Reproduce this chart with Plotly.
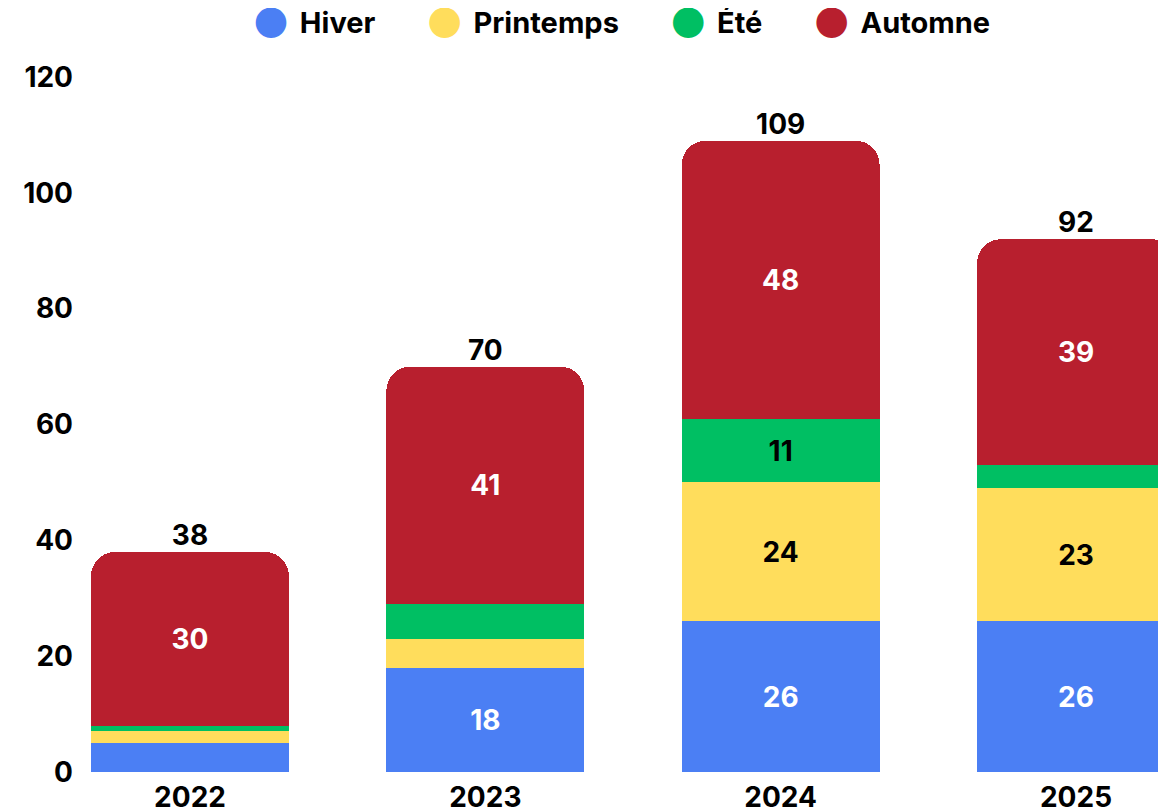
import plotly.graph_objects as go

years = ["2022", "2023", "2024", "2025"]
hiver = [5, 18, 26, 26]
printemps = [2, 5, 24, 23]
ete = [1, 6, 11, 4]
automne = [30, 41, 48, 39]
totals = [h + p + e + a for h, p, e, a in zip(hiver, printemps, ete, automne)]

series = [
    ("Hiver", hiver, "#4B7FF4", "white"),
    ("Printemps", printemps, "#FFDD5C", "black"),
    ("Été", ete, "#00BF63", "black"),
    ("Automne", automne, "#B81F2E", "white"),
]

FONT = "Inter"
fig = go.Figure()
for name, vals, color, tcol in series:
    labels = [str(v) if v >= 10 else "" for v in vals]
    fig.add_trace(go.Bar(
        x=years, y=vals, name=name, marker=dict(color=color, line=dict(width=0)),
        text=labels, textposition="inside", insidetextanchor="middle", textangle=0,
        textfont=dict(family=FONT, size=28, color=tcol, weight=700),
        showlegend=False, hoverinfo="skip", width=0.67,
    ))
    # legend entry (large circle drawn as a glyph)
    fig.add_trace(go.Scatter(
        x=[None], y=[None], mode="markers",
        name=(f'<span style="font-family:DejaVu Sans;font-size:40px;color:{color}">●</span>'
              f'\u00a0\u2009{name}\u00a0'),
        marker=dict(color="rgba(0,0,0,0)", size=1),
        showlegend=True,
    ))

fig.add_trace(go.Scatter(
    x=years, y=totals, mode="text", text=[str(t) for t in totals],
    textposition="top center", textfont=dict(family=FONT, size=28, color="black", weight=700),
    showlegend=False, hoverinfo="skip", cliponaxis=False,
))

fig.update_layout(
    width=1166, height=811,
    barmode="stack", barcornerradius=24,
    paper_bgcolor="white", plot_bgcolor="white",
    margin=dict(l=66, r=0, t=69, b=47, autoexpand=False),
    font=dict(family=FONT, size=28, color="black", weight=700),
    legend=dict(orientation="h", x=0.5146, xanchor="center", xref="container",
                y=0.983, yanchor="middle", yref="container",
                font=dict(family=FONT, size=29, weight=700),
                traceorder="normal", itemwidth=30),
    xaxis=dict(range=[-0.3928, 3.3318], showgrid=False, showline=False, ticks="",
               automargin=False, ticklabelstandoff=6,
               tickfont=dict(family=FONT, size=28, weight=700)),
    yaxis=dict(range=[0, 120], tickvals=[0, 20, 40, 60, 80, 100, 120], showgrid=False,
               zeroline=False, showline=False, ticks="", automargin=False,
               tickfont=dict(family=FONT, size=28, weight=700)),
)

fig.write_html("out.html")
